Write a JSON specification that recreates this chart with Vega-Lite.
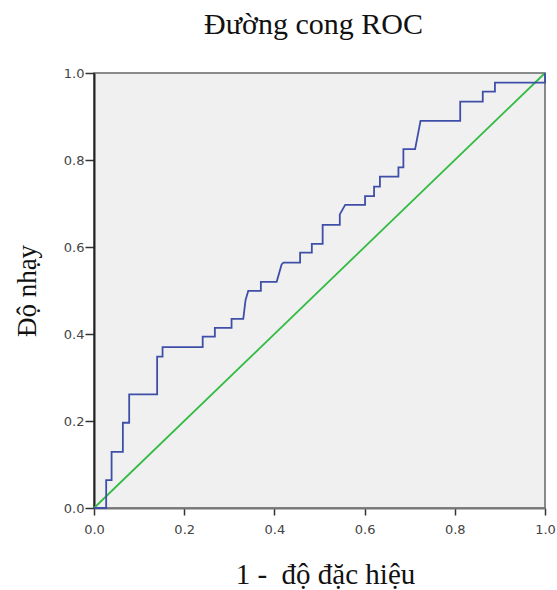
{
  "$schema": "https://vega.github.io/schema/vega-lite/v6.json",
  "width": 451,
  "height": 435,
  "autosize": "none",
  "padding": {"left": 94, "top": 73, "right": 12, "bottom": 82},
  "background": "white",
  "config": {
    "view": {"fill": "#f0f0f0", "stroke": "#666666", "strokeWidth": 1.5},
    "axis": {"grid": false, "labelFlush": false, "labelFont": "DejaVu Sans", "labelFontSize": 13, "labelColor": "#444444", "tickColor": "#333333", "tickWidth": 1.5, "domainWidth": 2, "titleFont": "Liberation Serif", "titleFontSize": 29, "titleFontWeight": "normal", "titleColor": "#111111"}
  },
  "title": {"text": "Đường cong ROC", "font": "Liberation Serif", "fontSize": 30, "fontWeight": "normal", "color": "#111111", "offset": 27, "dx": -6, "anchor": "middle"},
  "datasets": {
    "roc": [
      {"fpr": 0, "tpr": 0}, {"fpr": 0.027, "tpr": 0}, {"fpr": 0.027, "tpr": 0.064}, {"fpr": 0.039, "tpr": 0.064},
      {"fpr": 0.039, "tpr": 0.129}, {"fpr": 0.064, "tpr": 0.129}, {"fpr": 0.064, "tpr": 0.196}, {"fpr": 0.078, "tpr": 0.196},
      {"fpr": 0.078, "tpr": 0.261}, {"fpr": 0.140, "tpr": 0.261}, {"fpr": 0.140, "tpr": 0.348}, {"fpr": 0.152, "tpr": 0.348},
      {"fpr": 0.152, "tpr": 0.370}, {"fpr": 0.241, "tpr": 0.370}, {"fpr": 0.241, "tpr": 0.394}, {"fpr": 0.268, "tpr": 0.394},
      {"fpr": 0.268, "tpr": 0.414}, {"fpr": 0.305, "tpr": 0.414}, {"fpr": 0.305, "tpr": 0.435}, {"fpr": 0.331, "tpr": 0.435},
      {"fpr": 0.336, "tpr": 0.478}, {"fpr": 0.342, "tpr": 0.499}, {"fpr": 0.370, "tpr": 0.499}, {"fpr": 0.370, "tpr": 0.520},
      {"fpr": 0.405, "tpr": 0.520}, {"fpr": 0.416, "tpr": 0.560}, {"fpr": 0.420, "tpr": 0.564}, {"fpr": 0.457, "tpr": 0.564},
      {"fpr": 0.457, "tpr": 0.587}, {"fpr": 0.483, "tpr": 0.587}, {"fpr": 0.483, "tpr": 0.607}, {"fpr": 0.507, "tpr": 0.607},
      {"fpr": 0.507, "tpr": 0.651}, {"fpr": 0.545, "tpr": 0.651}, {"fpr": 0.545, "tpr": 0.675}, {"fpr": 0.557, "tpr": 0.697},
      {"fpr": 0.601, "tpr": 0.697}, {"fpr": 0.601, "tpr": 0.717}, {"fpr": 0.621, "tpr": 0.717}, {"fpr": 0.621, "tpr": 0.739},
      {"fpr": 0.634, "tpr": 0.739}, {"fpr": 0.634, "tpr": 0.762}, {"fpr": 0.675, "tpr": 0.762}, {"fpr": 0.675, "tpr": 0.783},
      {"fpr": 0.686, "tpr": 0.783}, {"fpr": 0.686, "tpr": 0.825}, {"fpr": 0.712, "tpr": 0.825}, {"fpr": 0.724, "tpr": 0.890},
      {"fpr": 0.812, "tpr": 0.890}, {"fpr": 0.812, "tpr": 0.934}, {"fpr": 0.862, "tpr": 0.934}, {"fpr": 0.862, "tpr": 0.957},
      {"fpr": 0.889, "tpr": 0.957}, {"fpr": 0.889, "tpr": 0.978}, {"fpr": 1.0, "tpr": 0.978}, {"fpr": 1.0, "tpr": 1.0}
    ],
    "ref": [{"fpr": 0, "tpr": 0}, {"fpr": 1, "tpr": 1}]
  },
  "layer": [
    {
      "data": {"name": "ref"},
      "mark": {"type": "line", "color": "#33bb44", "strokeWidth": 1.8},
      "encoding": {
        "x": {"field": "fpr", "type": "quantitative", "scale": {"domain": [0, 1]},
          "axis": {"title": "1 - \u00a0độ đặc hiệu", "titleX": 231, "values": [0, 0.2, 0.4, 0.6, 0.8, 1.0], "format": ".1f", "titlePadding": 24, "domainColor": "#777777", "tickSize": 7, "labelPadding": 8}},
        "y": {"field": "tpr", "type": "quantitative", "scale": {"domain": [0, 1]},
          "axis": {"title": "Độ nhạy", "titleFontSize": 27, "values": [0, 0.2, 0.4, 0.6, 0.8, 1.0], "format": ".1f", "titlePadding": 22, "domainColor": "#222222", "tickSize": 9, "labelPadding": 1}}
      }
    },
    {
      "data": {"name": "roc"},
      "mark": {"type": "line", "color": "#3f4fa8", "strokeWidth": 1.8},
      "encoding": {
        "x": {"field": "fpr", "type": "quantitative", "sort": null},
        "y": {"field": "tpr", "type": "quantitative"},
        "order": {"value": null}
      }
    }
  ]
}
